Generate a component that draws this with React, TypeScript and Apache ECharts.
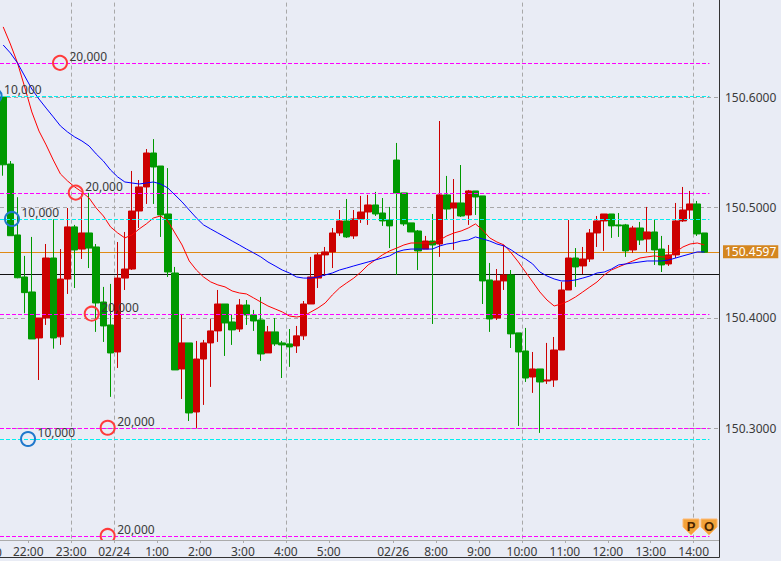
import React, { useEffect, useRef } from "react";
import * as echarts from "echarts";

const opens = [150.6003,150.5396,150.4753,150.4372,150.4236,150.3819,150.4000,150.4544,150.3829,150.4353,
150.4826,150.4625,150.4771,150.4644,150.4145,150.3937,150.3692,150.4362,150.4444,150.4970,
150.5188,150.5496,150.5378,150.4943,150.4408,150.3538,150.3774,150.3148,150.3628,150.3774,
150.3883,150.4127,150.3964,150.3900,150.4118,150.4028,150.3982,150.3683,150.3874,150.3774,
150.3765,150.3747,150.3838,150.4127,150.4362,150.4572,150.4599,150.4771,150.4880,150.4744,
150.4898,150.4961,150.5025,150.4952,150.4889,150.5432,150.5134,150.4862,150.4789,150.4625,
150.4698,150.4671,150.5116,150.4997,150.5043,150.4934,150.5152,150.5107,150.4345,150.4000,
150.4336,150.4390,150.3865,150.3701,150.3465,150.3538,150.3429,150.3438,150.3710,150.4254,
150.4544,150.4472,150.4535,150.4771,150.4880,150.4943,150.4844,150.4844,150.4617,150.4816,
150.4716,150.4780,150.4625,150.4490,150.4572,150.4880,150.4979,150.5034,150.4771];
const closes = [150.5389,150.4746,150.4365,150.4230,150.3810,150.4000,150.4544,150.3819,150.4353,150.4826,
150.4617,150.4771,150.4634,150.4136,150.3928,150.3683,150.4362,150.4444,150.4970,150.5188,
150.5496,150.5369,150.4934,150.4417,150.3529,150.3774,150.3139,150.3628,150.3774,150.3883,
150.4127,150.3955,150.3892,150.4118,150.4028,150.3973,150.3674,150.3874,150.3765,150.3756,
150.3738,150.3838,150.4127,150.4372,150.4572,150.4599,150.4771,150.4880,150.4735,150.4898,
150.4961,150.5025,150.4943,150.4880,150.4835,150.5134,150.4853,150.4780,150.4608,150.4698,
150.4662,150.5116,150.4988,150.5043,150.4925,150.5152,150.5097,150.4336,150.3991,150.4336,
150.4390,150.3856,150.3692,150.3456,150.3538,150.3420,150.3438,150.3710,150.4254,150.4544,
150.4463,150.4535,150.4771,150.4880,150.4943,150.4835,150.4835,150.4608,150.4816,150.4707,
150.4780,150.4617,150.4481,150.4572,150.4880,150.4979,150.5034,150.4762,150.4597];
const lows = [150.5290,150.4746,150.4360,150.4043,150.3810,150.3438,150.3937,150.3722,150.3756,150.4218,
150.4272,150.4535,150.4453,150.3874,150.3783,150.3285,150.3547,150.4254,150.4435,150.4816,
150.5034,150.5034,150.4735,150.4372,150.3529,150.3266,150.3066,150.3002,150.3212,150.3375,
150.3783,150.3656,150.3756,150.3874,150.3937,150.3883,150.3611,150.3683,150.3747,150.3456,
150.3557,150.3683,150.3801,150.4127,150.4272,150.4381,150.4453,150.4744,150.4726,150.4717,
150.4862,150.4844,150.4925,150.4835,150.4634,150.4390,150.4835,150.4780,150.4435,150.4625,
150.3946,150.4554,150.4898,150.4617,150.4916,150.4844,150.4934,150.4127,150.3874,150.3982,
150.4254,150.3728,150.3021,150.3420,150.3321,150.2958,150.3402,150.3375,150.3710,150.4254,
150.4282,150.4399,150.4508,150.4644,150.4608,150.4726,150.4735,150.4554,150.4590,150.4662,
150.4599,150.4481,150.4417,150.4472,150.4544,150.4871,150.4898,150.4744,150.4590];
const highs = [150.6012,150.5423,150.5095,150.4563,150.4735,150.4000,150.4671,150.4895,150.4625,150.4997,
150.4844,150.5131,150.5134,150.4671,150.4282,150.4309,150.4689,150.4780,150.5333,150.5251,
150.5532,150.5622,150.5378,150.5359,150.4463,150.4037,150.3774,150.3792,150.3801,150.3991,
150.4254,150.4127,150.4028,150.4172,150.4163,150.4073,150.4191,150.3928,150.4000,150.3792,
150.3900,150.3928,150.4154,150.4554,150.4590,150.4644,150.4816,150.4979,150.5079,150.4979,
150.5107,150.5116,150.5143,150.5088,150.5007,150.5587,150.5134,150.4862,150.4798,150.4744,
150.4943,150.5786,150.5288,150.5260,150.5387,150.5161,150.5152,150.5107,150.4499,150.4444,
150.4662,150.4435,150.3865,150.3910,150.3692,150.3538,150.3774,150.3828,150.4327,150.4889,
150.4634,150.4644,150.4807,150.4925,150.4943,150.4943,150.4952,150.4853,150.4835,150.4871,
150.5007,150.4889,150.4744,150.4662,150.5043,150.5188,150.5152,150.5061,150.4771];
const maFast = [150.6639,150.6484,150.6312,150.6095,150.5868,150.5695,150.5569,150.5432,150.5306,150.5242,
150.5188,150.5143,150.5088,150.4997,150.4925,150.4826,150.4771,150.4726,150.4753,150.4807,
150.4853,150.4907,150.4925,150.4880,150.4771,150.4662,150.4517,150.4435,150.4372,150.4327,
150.4300,150.4282,150.4245,150.4227,150.4218,150.4182,150.4145,150.4109,150.4082,150.4055,
150.4018,150.4009,150.4018,150.4055,150.4091,150.4136,150.4209,150.4272,150.4318,150.4362,
150.4417,150.4481,150.4526,150.4572,150.4608,150.4634,150.4662,150.4680,150.4680,150.4680,
150.4680,150.4707,150.4744,150.4771,150.4789,150.4816,150.4853,150.4798,150.4726,150.4689,
150.4662,150.4590,150.4508,150.4417,150.4327,150.4236,150.4163,150.4109,150.4127,150.4154,
150.4191,150.4236,150.4282,150.4327,150.4390,150.4435,150.4463,150.4490,150.4517,150.4544,
150.4554,150.4563,150.4554,150.4554,150.4599,150.4644,150.4671,150.4680,150.4662];
const maSlow = [150.6475,150.6403,150.6312,150.6194,150.6076,150.5985,150.5903,150.5823,150.5741,150.5686,
150.5641,150.5605,150.5560,150.5487,150.5423,150.5342,150.5279,150.5233,150.5224,150.5215,
150.5224,150.5233,150.5215,150.5179,150.5116,150.5052,150.4979,150.4907,150.4844,150.4807,
150.4771,150.4735,150.4698,150.4662,150.4625,150.4590,150.4554,150.4508,150.4472,150.4435,
150.4408,150.4372,150.4362,150.4362,150.4372,150.4390,150.4408,150.4435,150.4453,150.4472,
150.4490,150.4508,150.4526,150.4544,150.4563,150.4599,150.4617,150.4625,150.4625,150.4625,
150.4625,150.4653,150.4671,150.4680,150.4698,150.4707,150.4735,150.4717,150.4698,150.4671,
150.4653,150.4617,150.4572,150.4535,150.4490,150.4417,150.4381,150.4354,150.4336,150.4336,
150.4345,150.4362,150.4381,150.4408,150.4417,150.4444,150.4481,150.4490,150.4499,150.4508,
150.4517,150.4517,150.4517,150.4526,150.4544,150.4563,150.4581,150.4599,150.4599];

const tickIndexes = [3.5,9.5,15.5,21.5,27.5,33.5,39.5,45.5,54.5,60.5,66.5,72.5,78.5,84.5,90.5,96.5];
const tickLabels = ["22:00","23:00","02/24","1:00","2:00","3:00","4:00","5:00","02/26","8:00","9:00","10:00","11:00","12:00","13:00","14:00"];
const dayLines = [9.5,15.5,39.5,72.5,96.5];
const sellLevels = [150.6309,150.5131,150.4034,150.3000,150.2017];
const buyLevels = [150.6007,150.4895,150.2900];
const sellMarks = [[7.94,150.6313,"20,000"],[10.14,150.5137,"20,000"],[12.37,150.4039,"20,000"],[14.6,150.3005,"20,000"],[14.6,150.2024,"20,000"]];
const buyMarks = [[-1.2,150.6012,"10,000"],[1.23,150.4898,"10,000"],[3.47,150.2903,"10,000"]];
const lastPrice = 150.4597;
const basePrice = 150.4416;
const xMin = -0.447;
const xMax = 100.04;
const levelEnd = 98.7;
const priceMin = 150.2;
const priceMax = 150.6883;
const BG = "#E9ECF5";
const FONT = "'Noto Sans', sans-serif";

const levelLines = (levels: number[], color: string) =>
  levels.map((p) => {
    const lineStyle = { color, type: "dashed", width: 1, opacity: 1 };
    return [{ coord: [xMin, p], lineStyle }, { coord: [levelEnd, p], lineStyle }];
  });

const markSeries = (rows: any[], color: string) => ({
  type: "scatter",
  z: 6,
  clip: false,
  silent: true,
  symbol: "circle",
  symbolSize: 14,
  data: rows.map((r) => ({ value: [r[0], r[1]], label: { formatter: r[2] } })),
  itemStyle: { color: "rgba(0,0,0,0)", borderColor: color, borderWidth: 2, opacity: 1 },
  label: {
    show: true, position: "right", distance: 1.5, offset: [0, -6.5],
    fontFamily: FONT, fontSize: 12, color: "#3a3a3a",
  },
});

const badge = (x: number, letter: string) => ({
  type: "group",
  z: 9,
  children: [
    {
      type: "polygon", z: 9,
      shape: { points: [[x, 519], [x + 16, 519], [x + 16, 527], [x + 8, 535], [x, 527]] },
      style: { fill: "#F2A23A", stroke: "#FFB972", lineWidth: 1 },
    },
    {
      type: "text", z: 10, x: x + 8, y: 526,
      style: { text: letter, fill: "#4A2400", font: "bold 13px 'Liberation Sans', sans-serif", textAlign: "center", textVerticalAlign: "middle" },
    },
  ],
});

export default function App() {
  const ref = useRef<HTMLDivElement>(null);
  useEffect(() => {
    const chart = echarts.init(ref.current!, undefined, { renderer: "svg" });
    chart.setOption({
      animation: false,
      backgroundColor: BG,
      grid: { left: 0, top: 0, width: 719, height: 538.6, containLabel: false },
      xAxis: {
        type: "value", min: xMin, max: xMax, z: 8, offset: 1.4,
        axisLine: { show: true, onZero: false, lineStyle: { color: "#ABABAB", width: 1 } },
        axisTick: { show: true, length: 3, customValues: tickIndexes, lineStyle: { color: "#ABABAB" } },
        axisLabel: {
          show: true, customValues: tickIndexes, margin: 5, fontFamily: FONT, fontSize: 12, color: "#3a3a3a",
          formatter: (v: number) => tickLabels[tickIndexes.indexOf(v)] ?? "",
        },
        splitLine: { show: false },
      },
      yAxis: {
        type: "value", position: "right", min: priceMin, max: priceMax, interval: 0.1, scale: true,
        axisLine: { show: false },
        axisTick: { show: false },
        axisLabel: {
          margin: 6, fontFamily: FONT, fontSize: 12, color: "#3a3a3a", showMinLabel: false, showMaxLabel: false,
          formatter: (v: number) => v.toFixed(4),
        },
        splitLine: { show: true, showMinLine: false, showMaxLine: false, lineStyle: { color: "#A8A8A8", type: [4, 3], width: 1 } },
      },
      series: [
        {
          type: "line", data: [], z: 1, silent: true,
          markLine: {
            z: 1, silent: true, symbol: "none",
            label: { show: false },
            data: [
              ...dayLines.map((v) => ({ xAxis: v, lineStyle: { color: "#A8A8A8", type: [4, 3], width: 1 } })),
              { yAxis: basePrice, lineStyle: { color: "#111111", type: "solid", width: 1 } },
              {
                yAxis: lastPrice,
                lineStyle: { color: "#E08A14", type: "solid", width: 1 },
                label: {
                  show: true, position: "end", distance: 4, formatter: lastPrice.toFixed(4),
                  backgroundColor: "#D4861F", color: "#FFFFFF", padding: [0, 2], lineHeight: 13,
                  fontFamily: FONT, fontSize: 12,
                },
              },
            ],
          },
        },
        {
          type: "candlestick", z: 2, silent: true, barWidth: 7,
          data: opens.map((o, i) => [i, o, closes[i], lows[i], highs[i]]),
          itemStyle: { color: "#CC0000", color0: "#009900", borderColor: "#CC0000", borderColor0: "#009900", borderWidth: 1 },
        },
        {
          type: "line", z: 3, silent: true, symbol: "none",
          data: maFast.map((v, i) => [i, v]),
          lineStyle: { color: "#FF0000", width: 1 },
          markLine: {
            z: 4, silent: true, symbol: "none", label: { show: false },
            data: levelLines(sellLevels, "#FF00FF"),
          },
        },
        {
          type: "line", z: 3, silent: true, symbol: "none",
          data: maSlow.map((v, i) => [i, v]),
          lineStyle: { color: "#0000FF", width: 1 },
          markLine: {
            z: 4, silent: true, symbol: "none", label: { show: false },
            data: levelLines(buyLevels, "#00F0F0"),
          },
        },
        markSeries(sellMarks, "#FF3B3B"),
        markSeries(buyMarks, "#1F78CC"),
      ],
      graphic: [
        { type: "rect", z: 7, silent: true, shape: { x: 0, y: 540.5, width: 719, height: 16 }, style: { fill: BG } },
        { type: "line", z: 9, silent: true, shape: { x1: 719.5, y1: 0, x2: 719.5, y2: 557.5 }, style: { stroke: "#333333", lineWidth: 1 } },
        { type: "line", z: 9, silent: true, shape: { x1: 0, y1: 557.5, x2: 719.5, y2: 557.5 }, style: { stroke: "#333333", lineWidth: 1 } },
        { type: "text", z: 9, silent: true, x: -13.5, y: 552, style: { text: "21:00", fill: "#3a3a3a", font: "12px 'Noto Sans', sans-serif", textAlign: "center", textVerticalAlign: "middle" } },
        badge(683, "P"),
        badge(701, "O"),
      ],
    });
    return () => chart.dispose();
  }, []);
  return <div ref={ref} style={{ position: "fixed", left: 0, top: 0, width: 781, height: 561 }} />;
}
